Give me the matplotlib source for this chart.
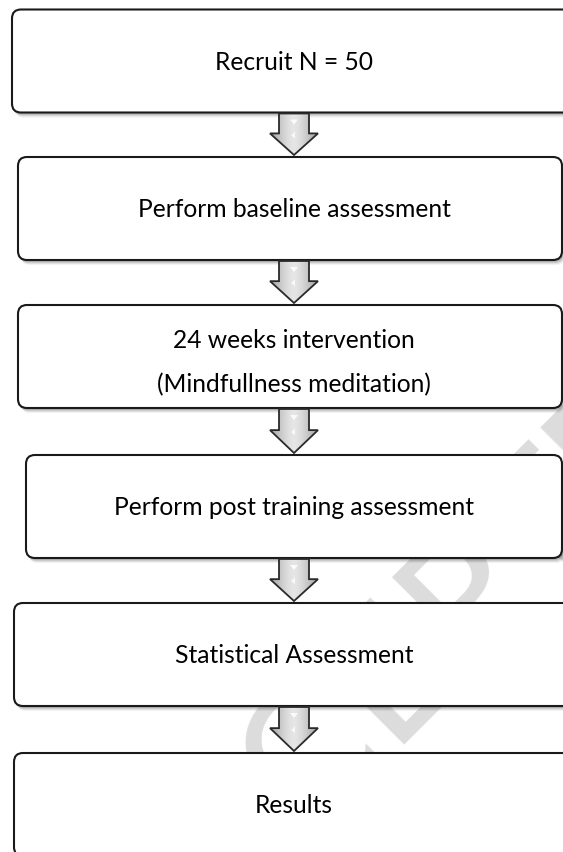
import matplotlib.pyplot as plt
import numpy as np
from matplotlib.patches import FancyBboxPatch, Polygon

plt.rcParams['font.family'] = ['Lato', 'DejaVu Sans']

# flowchart steps
labels = ['Recruit N = 50',
          'Perform baseline assessment',
          '24 weeks intervention\n(Mindfullness meditation)',
          'Perform post training assessment',
          'Statistical Assessment',
          'Results']
box_x0 = [12, 18, 18, 26, 14, 14]
box_x1 = [575, 562, 562, 562, 575, 575]
box_y0 = [9.5, 157, 305, 455, 603, 753]
box_h = 103
cx = 294

fig = plt.figure(figsize=(5.63, 8.52), dpi=100)
ax = fig.add_axes([0, 0, 1, 1])
ax.axis('off')

# watermark behind everything
ax.text(140, 1010, 'ACCEPTED MANUSCRIPT', rotation=45, rotation_mode='anchor',
        ha='left', va='baseline', fontsize=125, color='#dcdcdc',
        family='DejaVu Sans', zorder=0)

for i, lab in enumerate(labels):
    x0, x1, y0 = box_x0[i], box_x1[i], box_y0[i]
    w = x1 - x0
    # soft shadow
    for k, a in zip([5, 4, 3, 2], [0.05, 0.07, 0.09, 0.12]):
        sh = FancyBboxPatch((x0 + k * 0.6, y0 + k), w, box_h,
                            boxstyle='round,pad=0,rounding_size=9',
                            fc='black', ec='none', alpha=a, zorder=1)
        ax.add_patch(sh)
    box = FancyBboxPatch((x0, y0), w, box_h,
                         boxstyle='round,pad=0,rounding_size=9',
                         fc='white', ec='#1a1a1a', lw=1.5, zorder=2)
    ax.add_patch(box)

    lines = lab.split('\n')
    if len(lines) == 1:
        ax.text(cx, y0 + 60, lines[0], ha='center', va='baseline',
                fontsize=17.7, color='black', zorder=5)
    else:
        ax.text(cx, y0 + 43, lines[0], ha='center', va='baseline',
                fontsize=17.7, color='black', zorder=5)
        ax.text(cx, y0 + 87, lines[1], ha='center', va='baseline',
                fontsize=17.7, color='black', zorder=5)

# block arrows between boxes
grad = 0.62 + 0.28 * (1 - np.abs(np.linspace(-1, 1, 64)) ** 1.5)
grad = np.tile(grad, (8, 1))
for i in range(len(labels) - 1):
    top = box_y0[i] + box_h + 1
    tip = box_y0[i + 1] - 2
    mid = top + (tip - top) * 0.48
    pts = [(cx - 15, top), (cx + 15, top), (cx + 15, mid), (cx + 24, mid),
           (cx, tip), (cx - 24, mid), (cx - 15, mid)]
    poly = Polygon(pts, closed=True, fc='none', ec='#2a2a2a', lw=1.3, zorder=4,
                   joinstyle='miter')
    ax.add_patch(poly)
    im = ax.imshow(grad, cmap='gray', vmin=0, vmax=1, aspect='auto',
                   extent=[cx - 24, cx + 24, tip, top], zorder=3,
                   interpolation='bilinear')
    im.set_clip_path(poly)
    # little highlights
    ax.add_patch(Polygon([(cx - 4, top + 6), (cx + 4, top + 6), (cx, top + 11)],
                         fc='white', ec='none', alpha=0.85, zorder=3.5))
    ax.add_patch(Polygon([(cx - 3, mid + 2), (cx + 1, mid - 2), (cx + 1, mid + 5)],
                         fc='white', ec='none', alpha=0.75, zorder=3.5))

ax.set_xlim(0, 563)
ax.set_ylim(852, 0)
fig.savefig('out.png', dpi=100, facecolor='white')
